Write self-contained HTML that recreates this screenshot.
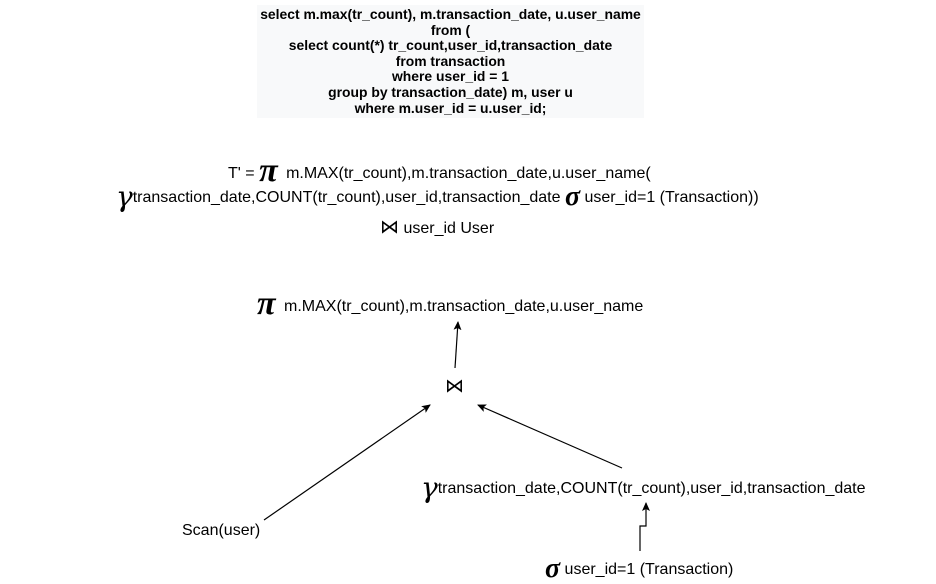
<!DOCTYPE html>
<html><head><meta charset="utf-8"><style>
body{margin:0;background:#fff;width:936px;height:581px;position:relative;overflow:hidden;font-family:"Liberation Sans",sans-serif;color:#000}
.t{position:absolute;white-space:nowrap;font-size:16px;line-height:20px}
.g{font-family:"Liberation Serif",serif;font-style:italic;font-weight:bold;font-size:28px;vertical-align:-3px;line-height:20px}
.p{font-family:"Liberation Serif",serif;font-style:italic;font-weight:bold;font-size:34px;vertical-align:-3px;line-height:20px;margin-right:4px}
.y{font-family:"DejaVu Serif",serif;font-style:italic;font-weight:normal;font-size:28px;vertical-align:-4px;line-height:20px}
.j{font-size:19px}
.sql{position:absolute;left:257px;top:5px;width:387px;height:113px;background:#f8f9fa;text-align:center;font-weight:bold;font-size:13.9px;line-height:15.6px;padding-top:2px;box-sizing:border-box;white-space:nowrap}
</style></head><body>
<div class="sql">select m.max(tr_count), m.transaction_date, u.user_name<br>from (<br>select count(*) tr_count,user_id,transaction_date<br>from transaction<br>where user_id = 1<br>group by transaction_date) m, user u<br>where m.user_id = u.user_id;</div>
<div class="t" style="left:228px;top:161px">T' = <span class="p">π</span> m.MAX(tr_count),m.transaction_date,u.user_name(</div>
<div class="t" style="left:116px;top:187px"><span class="y">γ</span>transaction_date,COUNT(tr_count),user_id,transaction_date <span class="g">σ</span> user_id=1 (Transaction))</div>
<div class="t" style="left:380px;top:218px"><span class="j">⋈</span> user_id User</div>
<div class="t" style="left:257px;top:294px"><span class="p">π</span> m.MAX(tr_count),m.transaction_date,u.user_name</div>
<div class="t" style="left:445px;top:377px"><span class="j">⋈</span></div>
<div class="t" style="left:421px;top:478px"><span class="y">γ</span>transaction_date,COUNT(tr_count),user_id,transaction_date</div>
<div class="t" style="left:182px;top:521px">Scan(user)</div>
<div class="t" style="left:545px;top:559px"><span class="g">σ</span> user_id=1 (Transaction)</div>
<svg width="936" height="581" style="position:absolute;left:0;top:0">
<defs><marker id="a" markerWidth="10" markerHeight="10" refX="8" refY="5" orient="auto" markerUnits="userSpaceOnUse"><path d="M0,1 L9,5 L0,9 L2,5 Z" fill="#000"/></marker></defs>
<g stroke="#000" stroke-width="1.2" fill="none">
<line x1="455" y1="368" x2="458" y2="322" marker-end="url(#a)"/>
<line x1="264" y1="520" x2="430" y2="405" marker-end="url(#a)"/>
<line x1="622" y1="468" x2="478" y2="405" marker-end="url(#a)"/>
<polyline points="640,551 640,526 646,526 646,503" marker-end="url(#a)"/>
</g></svg>
</body></html>
